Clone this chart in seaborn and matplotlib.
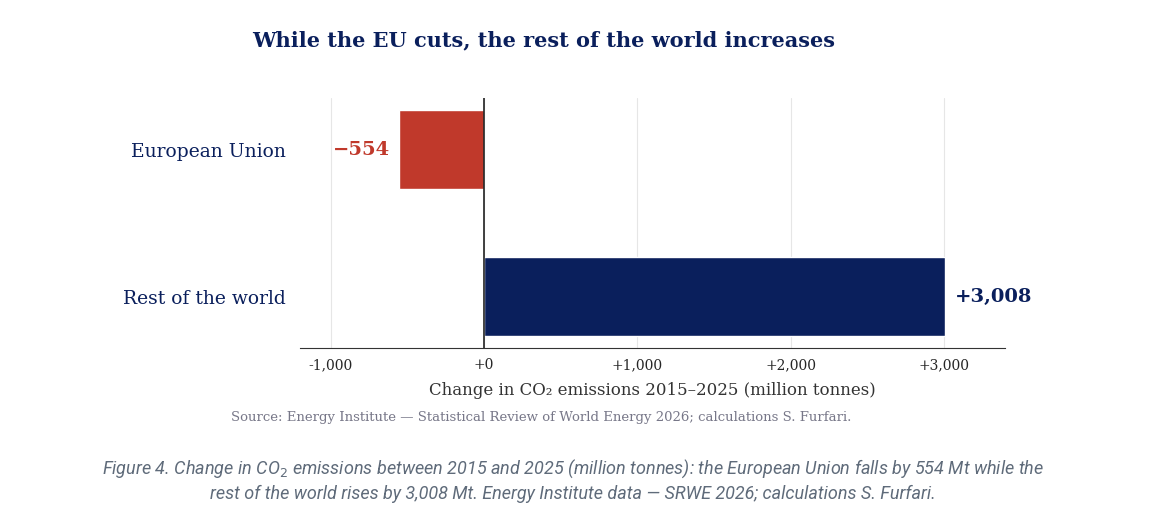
import matplotlib
matplotlib.use('Agg')
import seaborn as sns
import matplotlib.pyplot as plt
import pandas as pd

regions = ['European Union', 'Rest of the world']
changes = [-554, 3008]
labels = ['\u2212554', '+3,008']
colors = ['#c0392b', '#0a1f5c']
ticks = [-1000, 0, 1000, 2000, 3000]
tick_labels = ['-1,000', '+0', '+1,000', '+2,000', '+3,000']

navy = '#0a1f5c'
sns.set_style('white')
plt.rcParams['font.family'] = ['DejaVu Serif']

fig = plt.figure(figsize=(11.76, 5.14), dpi=100)
ax = fig.add_axes([0.255, 0.323, 0.6, 0.486])
df = pd.DataFrame({'region': regions, 'change': changes})
sns.barplot(data=df, x='change', y='region', hue='region', palette=colors,
            width=0.54, legend=False, ax=ax, saturation=1)
ax.set_xlim(-1200, 3400)
ax.set_ylim(1.35, -0.35)
ax.set_xticks(ticks)
ax.set_xticklabels(tick_labels, fontsize=10)
ax.grid(axis='x', color='#e6e6e6', linewidth=0.8)
ax.set_axisbelow(True)
for s in ['top', 'right', 'left']:
    ax.spines[s].set_visible(False)
ax.spines['bottom'].set_color('#333333')
ax.axvline(0, color='#222222', linewidth=1.2)
ax.tick_params(axis='x', length=4, color='#333333')
ax.tick_params(axis='y', length=0, pad=10)
for t in ax.get_yticklabels():
    t.set_fontsize(13.5)
    t.set_color(navy)
ax.set_ylabel('')
ax.set_xlabel('Change in CO\u2082 emissions 2015\u20132025 (million tonnes)',
              fontsize=12, color='#333333', labelpad=7)
for i, (v, lab) in enumerate(zip(changes, labels)):
    off = 60 if v > 0 else -60
    ax.text(v + off, i, lab, ha='left' if v > 0 else 'right', va='center',
            fontsize=14, fontweight='bold', color=colors[i])

fig.text(0.462, 0.91, 'While the EU cuts, the rest of the world increases',
         ha='center', fontsize=15, fontweight='bold', color=navy)
fig.text(0.46, 0.18, 'Source: Energy Institute \u2014 Statistical Review of World Energy 2026; calculations S. Furfari.',
         ha='center', fontsize=9.5, color='#777788')
cap = ('Figure 4. Change in CO$_2$ emissions between 2015 and 2025 (million tonnes): the European Union falls by 554 Mt while the\n'
       'rest of the world rises by 3,008 Mt. Energy Institute data \u2014 SRWE 2026; calculations S. Furfari.')
fig.text(0.487, 0.03, cap, ha='center', fontsize=13, style='italic', color='#5f6b7a',
         family=['Roboto', 'DejaVu Sans'], linespacing=1.35)
fig.savefig('out.png', dpi=100)
